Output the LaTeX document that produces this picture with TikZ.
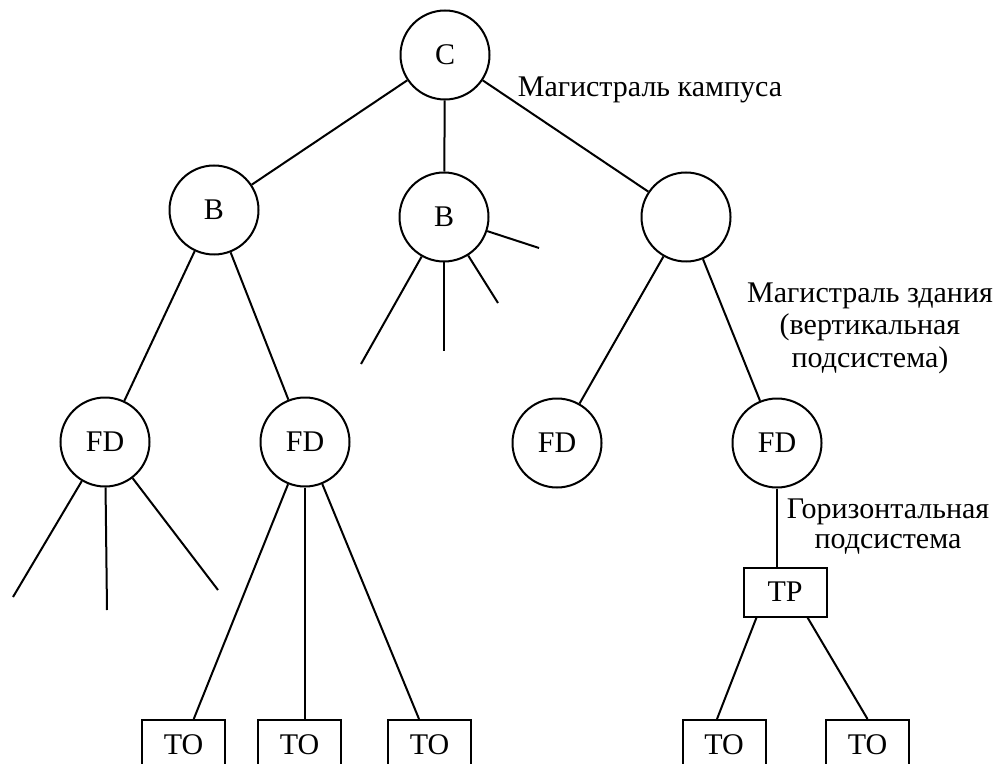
\documentclass[tikz,border=0pt]{standalone}
\usepackage{fontspec}
\setmainfont{Liberation Serif}
\usetikzlibrary{positioning}

\begin{document}
\begin{tikzpicture}[x=0.5pt,y=-0.5pt,line width=1pt,
  font=\fontsize{15pt}{16.25pt}\selectfont,
  unit/.style={circle, draw, minimum size=44.5pt, inner sep=0pt},
  outlet/.style={rectangle, draw, minimum width=41.5pt, minimum height=24.5pt, inner sep=0pt},
  lbl/.style={align=center, anchor=base, inner sep=0pt}]
\useasboundingbox (0,0) rectangle (994,764);
\clip (0,0) rectangle (994,764);

\node[unit] (c) at (445,55) {C};
\node[unit] (b1) at (214,210) {B};
\node[unit] (b2) at (444,217) {B};
\node[unit] (b3) at (686,217) {};
\node[unit] (fd1) at (105,442) {FD};
\node[unit] (fd2) at (305,442) {FD};
\node[unit] (fd3) at (557,443) {FD};
\node[unit] (fd4) at (777,443) {FD};
\node[outlet] (tp) at (785,592) {TP};
\node[outlet] (to1) at (183.5,744.5) {TO};
\node[outlet] (to2) at (299.5,744.5) {TO};
\node[outlet] (to3) at (429.5,744.5) {TO};
\node[outlet] (to4) at (724,744.5) {TO};
\node[outlet] (to5) at (867.5,744.5) {TO};

% free ends of the cables
\coordinate (e1) at (539,248);
\coordinate (e2) at (498,303);
\coordinate (e3) at (444,351);
\coordinate (e4) at (361,364);
\coordinate (e5) at (13,597);
\coordinate (e6) at (107,610);
\coordinate (e7) at (218,590);

% base = last line of a multi-line label
\node[lbl] (campus) at (650,97) {Магистраль кампуса};
\node[lbl] (vert) at (870,367) {Магистраль здания\\(вертикальная\\подсистема)};
\node[lbl, font=\fontsize{15pt}{15pt}\selectfont] (horiz) at (888,548) {Горизонтальная\\подсистема};

\foreach \from\to in {c/b1,c/b2,c/b3,b1/fd1,b1/fd2,b3/fd3,b3/fd4,fd2/to1,fd2/to3}
    \draw (\from) -- (\to);
\foreach \from\to in {b2/e1,b2/e2,b2/e3,b2/e4,fd1/e5,fd1/e6,fd1/e7}
    \draw (\from) -- (\to);
\draw (fd2) -- (fd2 |- to2.north);
\draw (fd4) -- (fd4 |- tp.north);
\draw ([xshift=7pt]tp.south west) -- ([xshift=-3.5pt]to4.north);
\draw ([xshift=-10pt]tp.south east) -- (to5.north);
\end{tikzpicture}
\end{document}
